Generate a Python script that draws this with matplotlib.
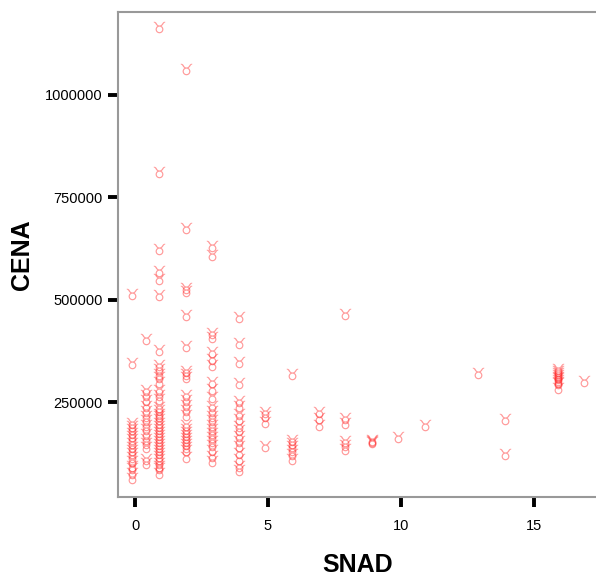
import matplotlib
matplotlib.use("Agg")
import matplotlib.pyplot as plt

plt.rcParams["font.family"] = ["Liberation Sans", "DejaVu Sans"]

# SNAD column -> CENA values
snad_0 = [515000, 345000, 200000, 192000, 185000, 175000, 168000, 160000, 150000,
          140000, 132000, 125000, 115000, 105000, 95000, 88000, 78000, 65000]
snad_05 = [405000, 280000, 268000, 255000, 240000, 228000, 215000, 205000, 195000,
           185000, 172000, 160000, 150000, 140000, 110000, 100000]
snad_1 = [1165000, 812000, 623000, 570000, 550000, 512000, 377000, 340000, 330000,
          318000, 310000, 300000, 280000, 268000, 258000, 238000, 230000, 222000,
          215000, 208000, 200000, 192000, 185000, 178000, 170000, 162000, 155000,
          148000, 140000, 132000, 125000, 118000, 110000, 102000, 95000, 88000, 78000]
snad_2 = [1062000, 675000, 528000, 522000, 462000, 388000, 325000, 318000, 312000,
          268000, 255000, 242000, 230000, 218000, 195000, 185000, 178000, 170000,
          162000, 155000, 148000, 140000, 132000, 115000]
snad_3 = [632000, 608000, 418000, 408000, 372000, 355000, 340000, 298000, 282000,
          262000, 240000, 228000, 215000, 205000, 195000, 185000, 175000, 165000,
          155000, 145000, 132000, 118000, 105000]
snad_4 = [458000, 395000, 348000, 296000, 252000, 240000, 220000, 208000, 192000,
          182000, 168000, 155000, 142000, 125000, 110000, 95000, 85000]
snad_5 = [225000, 215000, 202000, 142000]
snad_6 = [318000, 158000, 150000, 142000, 132000, 122000, 110000]
snad_7 = [225000, 210000, 195000]
snad_8 = [465000, 212000, 198000, 155000, 145000, 135000]
snad_9 = [158000, 155000, 152000]
snad_10 = [165000]
snad_11 = [195000]
snad_13 = [322000]
snad_14 = [208000, 122000]
snad_16 = [330000, 325000, 320000, 316000, 312000, 308000, 304000, 300000, 296000, 285000]
snad_17 = [302000]

groups = [(0, snad_0), (0.5, snad_05), (1, snad_1), (2, snad_2), (3, snad_3),
          (4, snad_4), (5, snad_5), (6, snad_6), (7, snad_7), (8, snad_8),
          (9, snad_9), (10, snad_10), (11, snad_11), (13, snad_13), (14, snad_14),
          (16, snad_16), (17, snad_17)]

xs, ys = [], []
for snad, vals in groups:
    for v in vals:
        xs.append(snad - 0.1)
        ys.append(v)

fig = plt.figure(figsize=(5.96, 5.76), dpi=100)
ax = fig.add_axes([0.198, 0.137, 0.805, 0.842])

ax.scatter(xs, ys, marker="$\u2649$", s=70, color="#ff2020", alpha=0.45, linewidths=0)

ax.set_xlim(-0.64, 17.4)
ax.set_ylim(18000, 1202000)
ax.set_xticks([0, 5, 10, 15])
ax.set_yticks([250000, 500000, 750000, 1000000])
ax.set_yticklabels(["250000", "500000", "750000", "1000000"])

for s in ax.spines.values():
    s.set_color("#999999")
    s.set_linewidth(1.5)

ax.tick_params(direction="out", length=7, width=2.8, color="black",
               labelsize=10.5, pad=4)
ax.tick_params(axis="x", pad=9)

ax.set_xlabel("SNAD", fontsize=18, fontweight="bold", labelpad=14)
ax.set_ylabel("CENA", fontsize=18, fontweight="bold", labelpad=8)

fig.savefig("out.png", dpi=100)
